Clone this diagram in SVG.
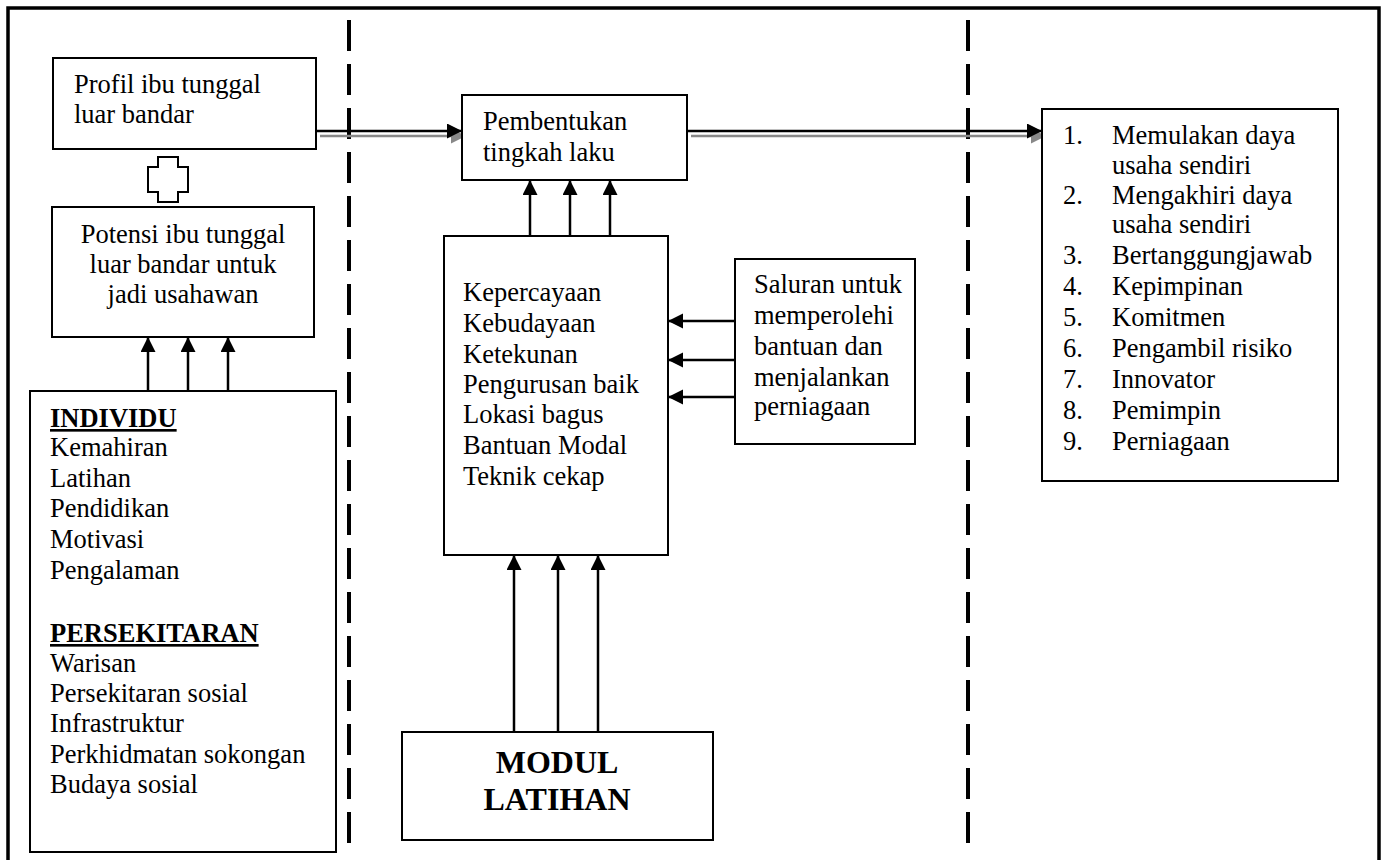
<svg xmlns="http://www.w3.org/2000/svg" width="1384" height="860" viewBox="0 0 1384 860">
<style>
.box{fill:#fff;stroke:#000;stroke-width:2}
.t{font-family:"Liberation Serif","Times New Roman",serif;font-size:26.5px;fill:#000}
.b{font-weight:bold}
.c{text-anchor:middle}
.ar{stroke:#000;stroke-width:2.5;fill:none;marker-end:url(#ah)}
.sh{stroke:#888;stroke-width:2.5;fill:none;marker-end:url(#ahg)}
.dash{stroke:#000;stroke-width:4;stroke-dasharray:31 13;fill:none}
</style>
<defs>
<marker id="ah" markerUnits="userSpaceOnUse" markerWidth="16" markerHeight="16" refX="15" refY="7.5" orient="auto">
<path d="M0,0 L15,7.5 L0,15 z" fill="#000"/>
</marker>
<marker id="ahg" markerUnits="userSpaceOnUse" markerWidth="16" markerHeight="16" refX="15" refY="7.5" orient="auto">
<path d="M0,0 L15,7.5 L0,15 z" fill="#888"/>
</marker>
</defs>
<rect x="8" y="8" width="1371" height="870" fill="#fff" stroke="#000" stroke-width="3.5"/>
<g id="dividers">
<line class="dash" x1="349" y1="20" x2="349" y2="852"/>
<line class="dash" x1="968" y1="20" x2="968" y2="852"/>
</g>
<g id="connectors">
<line class="sh" x1="320" y1="136" x2="466" y2="136"/>
<line class="ar" x1="316" y1="131" x2="462" y2="131"/>
<line class="sh" x1="691" y1="136" x2="1046" y2="136"/>
<line class="ar" x1="687" y1="131" x2="1042" y2="131"/>
<line class="ar" x1="148" y1="391" x2="148" y2="337"/>
<line class="ar" x1="188" y1="391" x2="188" y2="337"/>
<line class="ar" x1="228" y1="391" x2="228" y2="337"/>
<line class="ar" x1="530" y1="236" x2="530" y2="180"/>
<line class="ar" x1="570" y1="236" x2="570" y2="180"/>
<line class="ar" x1="610" y1="236" x2="610" y2="180"/>
<line class="ar" x1="735" y1="321" x2="668" y2="321"/>
<line class="ar" x1="735" y1="360" x2="668" y2="360"/>
<line class="ar" x1="735" y1="397" x2="668" y2="397"/>
<line class="ar" x1="514" y1="732" x2="514" y2="555"/>
<line class="ar" x1="558" y1="732" x2="558" y2="555"/>
<line class="ar" x1="598" y1="732" x2="598" y2="555"/>
</g>
<g id="profil">
<rect class="box" x="53" y="58" width="263" height="91"/>
<text class="t" x="74" y="93">Profil ibu tunggal</text>
<text class="t" x="74" y="123">luar bandar</text>
</g>
<g id="plus">
<polygon class="box" points="158,157 178,157 178,167 188,167 188,192 178,192 178,202 158,202 158,192 148,192 148,167 158,167"/>
</g>
<g id="potensi">
<rect class="box" x="52" y="207" width="262" height="130"/>
<text class="t c" x="183" y="243">Potensi ibu tunggal</text>
<text class="t c" x="183" y="273">luar bandar untuk</text>
<text class="t c" x="183" y="303">jadi usahawan</text>
</g>
<g id="faktor">
<rect class="box" x="30" y="391" width="306" height="461"/>
<text class="t b" x="50" y="427" text-decoration="underline">INDIVIDU</text>
<text class="t" x="50" y="456">Kemahiran</text>
<text class="t" x="50" y="487">Latihan</text>
<text class="t" x="50" y="517">Pendidikan</text>
<text class="t" x="50" y="548">Motivasi</text>
<text class="t" x="50" y="579">Pengalaman</text>
<text class="t b" x="50" y="642" text-decoration="underline">PERSEKITARAN</text>
<text class="t" x="50" y="672">Warisan</text>
<text class="t" x="50" y="702">Persekitaran sosial</text>
<text class="t" x="50" y="732">Infrastruktur</text>
<text class="t" x="50" y="763">Perkhidmatan sokongan</text>
<text class="t" x="50" y="793">Budaya sosial</text>
</g>
<g id="pembentukan">
<rect class="box" x="462" y="95" width="225" height="85"/>
<text class="t" x="483" y="130">Pembentukan</text>
<text class="t" x="483" y="161">tingkah laku</text>
</g>
<g id="nilai">
<rect class="box" x="444" y="236" width="224" height="319"/>
<text class="t" x="463" y="301">Kepercayaan</text>
<text class="t" x="463" y="332">Kebudayaan</text>
<text class="t" x="463" y="363">Ketekunan</text>
<text class="t" x="463" y="393">Pengurusan baik</text>
<text class="t" x="463" y="423">Lokasi bagus</text>
<text class="t" x="463" y="454">Bantuan Modal</text>
<text class="t" x="463" y="485">Teknik cekap</text>
</g>
<g id="saluran">
<rect class="box" x="735" y="259" width="180" height="185"/>
<text class="t" x="754" y="293">Saluran untuk</text>
<text class="t" x="754" y="324">memperolehi</text>
<text class="t" x="754" y="355">bantuan dan</text>
<text class="t" x="754" y="386">menjalankan</text>
<text class="t" x="754" y="415">perniagaan</text>
</g>
<g id="modul">
<rect class="box" x="402" y="732" width="311" height="108"/>
<text class="t b c" x="557" y="773" style="font-size:32px">MODUL</text>
<text class="t b c" x="557" y="810" style="font-size:32px">LATIHAN</text>
</g>
<g id="hasil">
<rect class="box" x="1042" y="109" width="296" height="372"/>
<text class="t" x="1063" y="144">1.</text><text class="t" x="1112" y="144">Memulakan daya</text>
<text class="t" x="1112" y="174">usaha sendiri</text>
<text class="t" x="1063" y="204">2.</text><text class="t" x="1112" y="204">Mengakhiri daya</text>
<text class="t" x="1112" y="233">usaha sendiri</text>
<text class="t" x="1063" y="264">3.</text><text class="t" x="1112" y="264">Bertanggungjawab</text>
<text class="t" x="1063" y="295">4.</text><text class="t" x="1112" y="295">Kepimpinan</text>
<text class="t" x="1063" y="326">5.</text><text class="t" x="1112" y="326">Komitmen</text>
<text class="t" x="1063" y="357">6.</text><text class="t" x="1112" y="357">Pengambil risiko</text>
<text class="t" x="1063" y="388">7.</text><text class="t" x="1112" y="388">Innovator</text>
<text class="t" x="1063" y="419">8.</text><text class="t" x="1112" y="419">Pemimpin</text>
<text class="t" x="1063" y="450">9.</text><text class="t" x="1112" y="450">Perniagaan</text>
</g>
</svg>
